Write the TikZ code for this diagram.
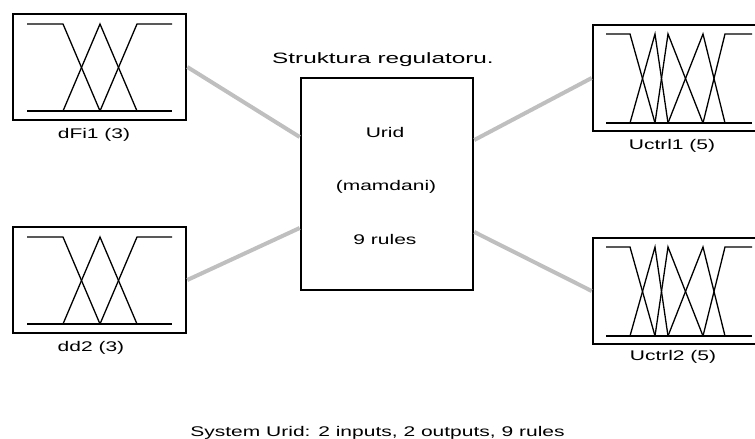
\documentclass[tikz,border=0pt]{standalone}
\usepackage{fontspec}
\setmainfont{Liberation Sans}[FakeStretch=1.5]
\newfontfamily\titlefont{Liberation Sans}[FakeStretch=1.62]
\begin{document}
\begin{tikzpicture}[x=1pt,y=-1pt,
  mfbox/.style={draw=black,line width=2.6pt,rectangle,minimum width=173pt,minimum height=106pt,inner sep=0pt},
  fisbox/.style={draw=black,line width=2.6pt,rectangle,minimum width=172pt,minimum height=212pt,inner sep=0pt},
  conn/.style={draw=black!25,line width=4pt},
  mf/.style={draw=black,line width=1.3pt},
  lbl/.style={font=\fontsize{14}{16}\selectfont,inner sep=0pt}]
\useasboundingbox (0,0) rectangle (755,439);
\clip (0,0) rectangle (755,439);
% boxes
\node[mfbox] (in1) at (99.5,67) {};
\node[mfbox] (in2) at (99.5,280) {};
\node[mfbox] (out1) at (679.5,78) {};
\node[mfbox] (out2) at (679.5,291) {};
\node[fisbox] (urid) at (387,184) {};
% connectors
\coordinate (u1) at ([yshift=47pt]urid.west);
\coordinate (u2) at ([yshift=-44pt]urid.west);
\coordinate (u3) at ([yshift=44pt]urid.east);
\coordinate (u4) at ([yshift=-48pt]urid.east);
\draw[conn] (in1.east) -- (u1);
\draw[conn] (in2.east) -- (u2);
\draw[conn] (u3) -- (out1.west);
\draw[conn] (u4) -- (out2.west);
% membership functions: inputs (3 MFs)
\foreach \t/\b in {24/111,237/324}{
  \draw[mf] (27,\t) -- (63,\t) -- (100,\b);
  \draw[mf] (63,\b) -- (100,\t) -- (137,\b);
  \draw[mf] (100,\b) -- (137,\t) -- (172,\t);
  \draw[mf] (27,\b) -- (172,\b);
}
% membership functions: outputs (5 MFs)
\foreach \t/\b in {34/123,247/336}{
  \draw[mf] (606,\t) -- (630,\t) -- (655,\b);
  \draw[mf] (630,\b) -- (655,\t) -- (668,\b);
  \draw[mf] (655,\b) -- (668,\t) -- (703,\b);
  \draw[mf] (668,\b) -- (703,\t) -- (725,\b);
  \draw[mf] (703,\b) -- (725,\t) -- (752,\t);
  \draw[mf] (606,\b) -- (752,\b);
}
% labels
\node[lbl] (l1) at (94,135) {dFi1 (3)};
\node[lbl] (l2) at (91,348) {dd2 (3)};
\node[lbl] (l3) at (672,146) {Uctrl1 (5)};
\node[lbl] (l4) at (673,357) {Uctrl2 (5)};
\node[lbl] (t1) at (385,132) {Urid};
\node[lbl] (t2) at (386,187) {(mamdani)};
\node[lbl] (t3) at (385,239) {9 rules};
\node[inner sep=0pt,font=\fontsize{15}{17}\selectfont\titlefont] (title) at (383,60) {Struktura regulatoru.};
\node[lbl] (sys) at (377.5,433) {System Urid: 2 inputs, 2 outputs, 9 rules};
\end{tikzpicture}
\end{document}
